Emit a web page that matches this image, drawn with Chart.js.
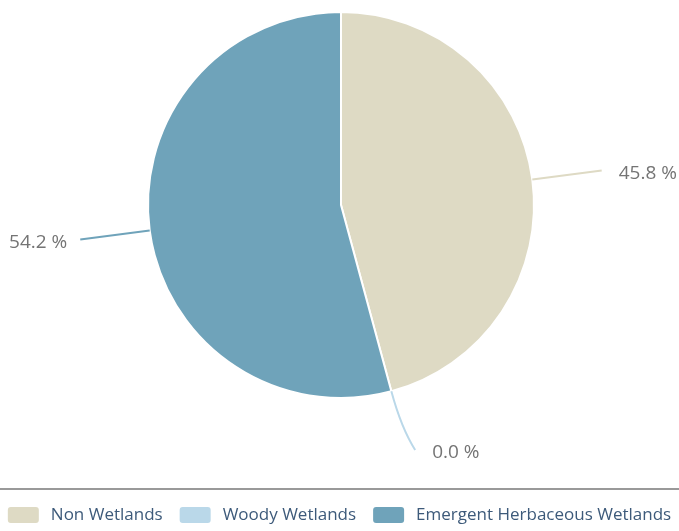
<!DOCTYPE html>
<html>
<head>
<meta charset="utf-8">
<script src="https://cdn.jsdelivr.net/npm/chart.js@4"></script>
<style>
    body { margin: 0; background: #fff; }
    #wrap { width: 679px; height: 531px; }
</style>
</head>
<body>
<div id="wrap"><canvas id="chart" width="679" height="531"></canvas></div>
<script>
// Data
const categories = ['Non Wetlands', 'Woody Wetlands', 'Emergent Herbaceous Wetlands'];
const shares = [45.8, 0.0, 54.2];
const sliceColors = ['#dedac4', '#bad8e9', '#6fa3ba'];

// Leader lines + percentage labels
const sliceLabels = {
    id: 'sliceLabels',
    afterDatasetsDraw(chart) {
        const ctx = chart.ctx;
        const meta = chart.getDatasetMeta(0);
        ctx.save();
        ctx.font = '19px "Open Sans"';
        ctx.textBaseline = 'middle';
        meta.data.forEach((arc, i) => {
            const p = arc.getProps(['x', 'y', 'startAngle', 'endAngle', 'outerRadius'], true);
            const mid = (p.startAngle + p.endAngle) / 2;
            const tiny = shares[i] < 1;
            const r0 = p.outerRadius;
            const r1 = tiny ? r0 + 63 : r0 + 70;
            const endAng = tiny ? mid - 0.03 : mid;
            const sx = p.x + Math.cos(mid) * r0;
            const sy = p.y + Math.sin(mid) * r0;
            const cx = p.x + Math.cos(mid) * (r0 + 38);
            const cy = p.y + Math.sin(mid) * (r0 + 38);
            const ex = p.x + Math.cos(endAng) * r1;
            const ey = p.y + Math.sin(endAng) * r1;

            ctx.strokeStyle = sliceColors[i];
            ctx.lineWidth = 2;
            ctx.beginPath();
            ctx.moveTo(sx, sy);
            ctx.quadraticCurveTo(cx, cy, ex, ey);
            ctx.stroke();

            const right = Math.cos(endAng) >= 0;
            ctx.textAlign = right ? 'left' : 'right';
            ctx.fillStyle = '#747474';
            ctx.fillText(shares[i].toFixed(1) + ' %', ex + (right ? 17 : -13), ey + 3);
        });
        ctx.restore();
    }
};

// Grey rule + single-row legend under the pie
const bottomLegend = {
    id: 'bottomLegend',
    afterDraw(chart) {
        const ctx = chart.ctx;
        const ruleY = 489;
        const boxW = 31, boxH = 16, textGap = 12, itemGap = 17;
        const rowY = 515;

        ctx.save();
        ctx.strokeStyle = '#999999';
        ctx.lineWidth = 2;
        ctx.beginPath();
        ctx.moveTo(0, ruleY);
        ctx.lineTo(chart.width, ruleY);
        ctx.stroke();

        ctx.font = '17px "Open Sans"';
        ctx.textBaseline = 'middle';
        ctx.textAlign = 'left';
        const widths = categories.map(c => boxW + textGap + ctx.measureText(c).width);
        const total = widths.reduce((a, b) => a + b, 0) + itemGap * (categories.length - 1);
        let x = (chart.width - total) / 2;

        categories.forEach((name, i) => {
            ctx.fillStyle = sliceColors[i];
            ctx.beginPath();
            ctx.roundRect(x, rowY - boxH / 2, boxW, boxH, 3);
            ctx.fill();
            ctx.fillStyle = '#3d5a7a';
            ctx.fillText(name, x + boxW + textGap, rowY);
            x += widths[i] + itemGap;
        });
        ctx.restore();
    }
};

new Chart(document.getElementById('chart'), {
    type: 'pie',
    data: {
        labels: categories,
        datasets: [{
            data: shares,
            backgroundColor: sliceColors,
            borderColor: '#ffffff',
            borderWidth: 2,
            hoverOffset: 0
        }]
    },
    options: {
        responsive: false,
        animation: false,
        devicePixelRatio: 1,
        layout: { padding: { top: 11, bottom: 132, left: 3 } },
        plugins: {
            tooltip: { enabled: false },
            legend: { display: false }
        }
    },
    plugins: [sliceLabels, bottomLegend]
});
</script>
</body>
</html>
